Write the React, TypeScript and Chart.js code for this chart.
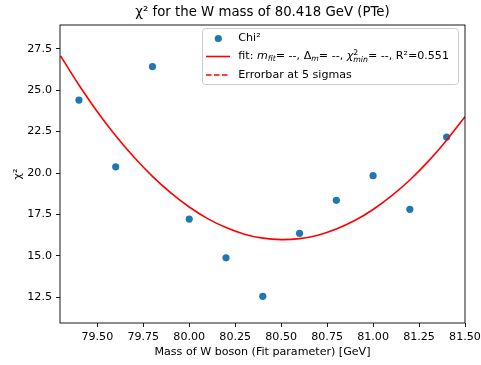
import React, { useEffect, useRef } from "react";
import { Chart, registerables } from "chart.js";

Chart.register(...registerables);

const titleText = "χ² for the W mass of 80.418 GeV (PTe)";
const xLabel = "Mass of W boson (Fit parameter) [GeV]";
const yLabel = "χ²";

const massValues = [79.4, 79.6, 79.8, 80.0, 80.2, 80.4, 80.6, 80.8, 81.0, 81.2, 81.4];
const chi2Values = [24.4, 20.37, 26.42, 17.22, 14.88, 12.56, 16.36, 18.35, 19.84, 17.81, 22.17];

const fitMass = [79.3, 79.4, 79.5, 79.6, 79.7, 79.8, 79.9, 80.0, 80.1, 80.2, 80.3, 80.4, 80.5, 80.6, 80.7, 80.8, 80.9, 81.0, 81.1, 81.2, 81.3, 81.4, 81.5];
const fitChi2 = [27.06, 25.31, 23.7, 22.25, 20.95, 19.8, 18.8, 17.95, 17.25, 16.71, 16.31, 16.07, 15.98, 16.04, 16.25, 16.62, 17.13, 17.8, 18.62, 19.58, 20.7, 21.98, 23.4];

const xTicks = [79.5, 79.75, 80.0, 80.25, 80.5, 80.75, 81.0, 81.25, 81.5];
const yTicks = [12.5, 15.0, 17.5, 20.0, 22.5, 25.0, 27.5];

const FONT = '"DejaVu Sans", sans-serif';
const FS = 11.1;

type Piece = { t: string; italic?: boolean; small?: boolean; dy?: number; noAdvance?: boolean };

function drawPieces(ctx: CanvasRenderingContext2D, pieces: Piece[], x: number, y: number, size: number) {
  let cx = x;
  for (const p of pieces) {
    const fs = p.small ? size * 0.7 : size;
    ctx.font = `${p.italic ? "italic " : ""}${fs}px ${FONT}`;
    ctx.fillText(p.t, cx, y + (p.dy || 0));
    if (!p.noAdvance) cx += ctx.measureText(p.t).width;
  }
}

const framePlugin = {
  id: "framePlugin",
  afterDraw(chart: any) {
    const ctx: CanvasRenderingContext2D = chart.ctx;
    const { left, right, top, bottom } = chart.chartArea;
    ctx.save();
    ctx.strokeStyle = "#000";
    ctx.lineWidth = 0.9;
    ctx.strokeRect(left, top, right - left, bottom - top);

    ctx.fillStyle = "#000";
    ctx.textAlign = "center";
    ctx.textBaseline = "middle";
    ctx.font = `13.3px ${FONT}`;
    ctx.fillText(titleText, (left + right) / 2, 13);

    ctx.font = `${FS}px ${FONT}`;
    ctx.fillText(xLabel, (left + right) / 2, 352);

    ctx.save();
    ctx.translate(18, (top + bottom) / 2);
    ctx.rotate(-Math.PI / 2);
    ctx.fillText(yLabel, 0, 0);
    ctx.restore();

    const bx = 202.5, by = 28.5, bw = 256, bh = 56, r = 3;
    ctx.beginPath();
    ctx.moveTo(bx + r, by);
    ctx.lineTo(bx + bw - r, by);
    ctx.quadraticCurveTo(bx + bw, by, bx + bw, by + r);
    ctx.lineTo(bx + bw, by + bh - r);
    ctx.quadraticCurveTo(bx + bw, by + bh, bx + bw - r, by + bh);
    ctx.lineTo(bx + r, by + bh);
    ctx.quadraticCurveTo(bx, by + bh, bx, by + bh - r);
    ctx.lineTo(bx, by + r);
    ctx.quadraticCurveTo(bx, by, bx + r, by);
    ctx.closePath();
    ctx.fillStyle = "rgba(255,255,255,0.8)";
    ctx.fill();
    ctx.strokeStyle = "#cccccc";
    ctx.lineWidth = 1;
    ctx.stroke();

    const ds = chart.data.datasets;
    ctx.fillStyle = "#1f77b4";
    ctx.beginPath();
    ctx.arc(218.3, 38.5, 3.6, 0, Math.PI * 2);
    ctx.fill();
    ctx.strokeStyle = "#ff0000";
    ctx.lineWidth = 1.6;
    ctx.beginPath();
    ctx.moveTo(206, 56.5);
    ctx.lineTo(230, 56.5);
    ctx.stroke();
    ctx.setLineDash([5.5, 2.5]);
    ctx.beginPath();
    ctx.moveTo(206, 75);
    ctx.lineTo(230, 75);
    ctx.stroke();
    ctx.setLineDash([]);

    ctx.fillStyle = "#000";
    ctx.textAlign = "left";
    ctx.textBaseline = "middle";
    ctx.font = `${FS}px ${FONT}`;
    ctx.fillText(ds[0].label, 238.3, 38.5);
    drawPieces(
      ctx,
      [
        { t: "fit: " },
        { t: "m", italic: true },
        { t: "fit", italic: true, small: true, dy: 2.5 },
        { t: "= --, Δ" },
        { t: "m", italic: true, small: true, dy: 2.5 },
        { t: "= --, " },
        { t: "χ", italic: true },
        { t: "2", small: true, dy: -4, noAdvance: true },
        { t: "min", italic: true, small: true, dy: 3 },
        { t: "= --, R²=0.551" },
      ],
      238.3,
      56.5,
      FS
    );
    ctx.font = `${FS}px ${FONT}`;
    ctx.fillText(ds[2].label, 238.3, 75);
    ctx.restore();
  },
};

export default function App() {
  const ref = useRef<HTMLCanvasElement>(null);
  useEffect(() => {
    if (!ref.current) return;
    const chart = new Chart(ref.current, {
      type: "scatter",
      data: {
        datasets: [
          {
            type: "scatter",
            label: "Chi²",
            data: massValues.map((m, i) => ({ x: m, y: chi2Values[i] })),
            backgroundColor: "#1f77b4",
            borderColor: "#1f77b4",
            pointRadius: 3.6,
            pointBorderWidth: 0,
            order: 2,
          },
          {
            type: "line",
            label: "fit",
            data: fitMass.map((m, i) => ({ x: m, y: fitChi2[i] })),
            borderColor: "#ff0000",
            borderWidth: 1.6,
            pointRadius: 0,
            tension: 0.4,
            fill: false,
            order: 1,
          },
          {
            type: "line",
            label: "Errorbar at 5 sigmas",
            data: [],
            borderColor: "#ff0000",
            borderDash: [5.5, 2.5],
            borderWidth: 1.6,
            pointRadius: 0,
            order: 0,
          },
        ] as any,
      },
      options: {
        responsive: false,
        animation: false,
        devicePixelRatio: 1,
        layout: { padding: { left: 0, right: 16, top: 25, bottom: 0 } },
        plugins: { legend: { display: false }, title: { display: false }, tooltip: { enabled: false } },
        scales: {
          x: {
            type: "linear",
            min: 79.297,
            max: 81.5,
            afterFit: (s: any) => {
              s.height = 42;
              s.paddingLeft = 0;
              s.paddingRight = 0;
            },
            afterBuildTicks: (s: any) => {
              s.ticks = xTicks.map((v) => ({ value: v }));
            },
            ticks: {
              callback: (v: any) => Number(v).toFixed(2),
              font: { family: FONT, size: FS },
              color: "#000",
              padding: 3,
              maxRotation: 0,
              autoSkip: false,
            },
            grid: { drawOnChartArea: false, drawTicks: true, tickLength: 4, color: "#000", lineWidth: 0.9 },
            border: { display: false },
          },
          y: {
            type: "linear",
            min: 10.95,
            max: 28.93,
            afterFit: (s: any) => {
              s.width = 60;
              s.paddingTop = 0;
              s.paddingBottom = 0;
            },
            afterBuildTicks: (s: any) => {
              s.ticks = yTicks.map((v) => ({ value: v }));
            },
            ticks: {
              callback: (v: any) => Number(v).toFixed(1),
              font: { family: FONT, size: FS },
              color: "#000",
              padding: 4,
              autoSkip: false,
            },
            grid: { drawOnChartArea: false, drawTicks: true, tickLength: 4, color: "#000", lineWidth: 0.9 },
            border: { display: false },
          },
        },
      },
      plugins: [framePlugin],
    });
    return () => chart.destroy();
  }, []);
  return (
    <div style={{ position: "absolute", left: 0, top: 0, width: 481, height: 365, background: "#fff" }}>
      <canvas ref={ref} width={481} height={365} />
    </div>
  );
}
